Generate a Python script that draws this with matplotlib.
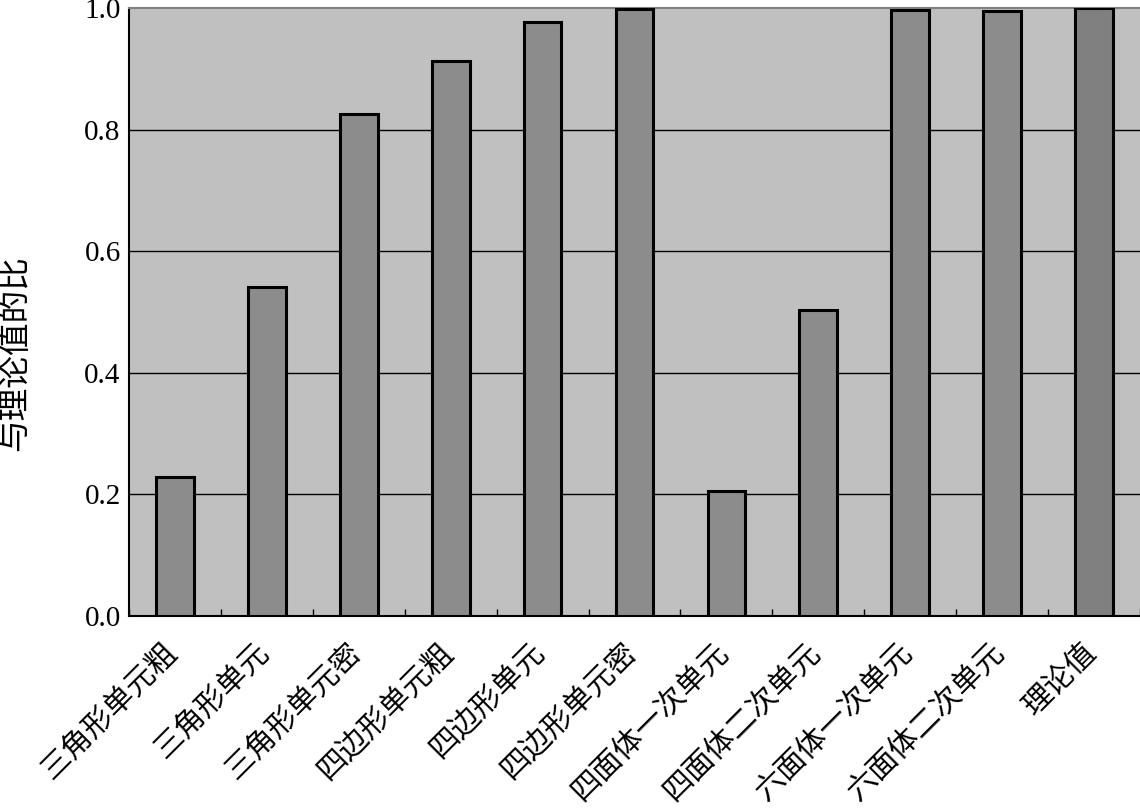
import matplotlib
matplotlib.use("Agg")
import matplotlib.pyplot as plt
import matplotlib.transforms as mtransforms
import numpy as np

plt.rcParams['font.family'] = ['Liberation Serif', 'Noto Sans CJK SC', 'DejaVu Sans']

categories = ["三角形单元粗", "三角形单元", "三角形单元密", "四边形单元粗", "四边形单元",
              "四边形单元密", "四面体一次单元", "四面体二次单元", "六面体一次单元",
              "六面体二次单元", "理论值"]
values = [0.229, 0.541, 0.826, 0.913, 0.977, 0.999, 0.206, 0.503, 0.997, 0.995, 1.0]
yticks = [0.0, 0.2, 0.4, 0.6, 0.8, 1.0]
ylabel = "与理论值的比"

fig = plt.figure(figsize=(11.4, 8.1), dpi=100)
ax = fig.add_axes([129/1140, (810-616)/810, 1011/1140, 608/810])
ax.set_facecolor('#c0c0c0')

x = np.arange(len(categories))
colors = ['#8c8c8c'] * (len(categories) - 1) + ['#808080']
ax.bar(x, values, width=0.41, color=colors, edgecolor='black', linewidth=2.2, zorder=3)

ax.set_xlim(-0.5, len(categories) - 0.5)
ax.set_ylim(0, 1.0)
ax.set_yticks(yticks)
ax.set_yticklabels([f"{v:.1f}" for v in yticks], fontsize=21)
for v in yticks[1:-1]:
    ax.axhline(v, color='black', linewidth=1.0, zorder=1)

ax.set_xticks(x)
ax.set_xticklabels(categories, rotation=45, ha='right', va='center',
                   rotation_mode='anchor', fontsize=21.5)
ax.tick_params(axis='x', length=0, pad=23)
offset = mtransforms.ScaledTranslation(-2/100, 0, fig.dpi_scale_trans)
for lab in ax.get_xticklabels():
    lab.set_transform(lab.get_transform() + offset)
ax.set_xticks(np.arange(len(categories) + 1) - 0.5, minor=True)
ax.tick_params(axis='x', which='minor', direction='in', length=5, width=1)
ax.tick_params(axis='y', direction='in', length=0, pad=6)

ax.spines['left'].set_color('black')
ax.spines['left'].set_linewidth(1.5)
ax.spines['bottom'].set_color('black')
ax.spines['bottom'].set_linewidth(1.5)
ax.spines['top'].set_color('#808080')
ax.spines['top'].set_linewidth(1.5)
ax.spines['right'].set_visible(False)

fig.text(16/1140, 1 - 353/810, ylabel, rotation=90, fontsize=23.5,
         ha='center', va='center')

fig.savefig("out.png", dpi=100)
